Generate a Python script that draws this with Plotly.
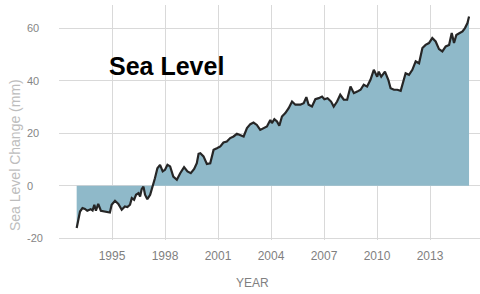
import plotly.graph_objects as go

years = [
    1993.0, 1993.19, 1993.33, 1993.47, 1993.6, 1993.79, 1993.9, 1994.0, 1994.09, 1994.22,
    1994.37, 1994.6, 1994.88, 1994.98, 1995.17, 1995.36, 1995.55, 1995.73, 1995.87, 1996.02,
    1996.12, 1996.25, 1996.36, 1996.5, 1996.59, 1996.68, 1996.78, 1996.87, 1997.0, 1997.16,
    1997.3, 1997.43, 1997.57, 1997.72, 1997.87, 1998.0, 1998.14, 1998.29, 1998.47, 1998.67,
    1998.86, 1999.08, 1999.27, 1999.46, 1999.65, 1999.8, 1999.9, 2000.0, 2000.18, 2000.37,
    2000.56, 2000.75, 2000.94, 2001.13, 2001.31, 2001.5, 2001.69, 2001.88, 2002.07, 2002.26,
    2002.45, 2002.64, 2002.83, 2003.01, 2003.2, 2003.39, 2003.58, 2003.77, 2003.96, 2004.05,
    2004.19, 2004.34, 2004.47, 2004.62, 2004.81, 2005.0, 2005.19, 2005.38, 2005.66, 2005.85,
    2006.0, 2006.13, 2006.32, 2006.51, 2006.7, 2006.89, 2007.02, 2007.2, 2007.4, 2007.55,
    2007.74, 2007.92, 2008.12, 2008.31, 2008.5, 2008.69, 2008.88, 2009.07, 2009.25, 2009.44,
    2009.63, 2009.82, 2010.01, 2010.1, 2010.24, 2010.45, 2010.64, 2010.77, 2010.96, 2011.15,
    2011.34, 2011.43, 2011.62, 2011.81, 2012.0, 2012.19, 2012.38, 2012.57, 2012.75, 2012.94,
    2013.13, 2013.32, 2013.51, 2013.7, 2013.89, 2014.08, 2014.23, 2014.36, 2014.49, 2014.68,
    2014.84, 2014.98, 2015.12, 2015.21,
]
sea_level_mm = [
    -16.1, -9.8, -8.5, -8.8, -9.5, -8.9, -9.4, -7.2, -9.5, -6.9,
    -9.5, -9.8, -10.2, -7.2, -5.7, -6.9, -9.1, -7.9, -8.1, -7.2,
    -4.7, -5.3, -3.4, -2.8, -4.1, -1.3, -0.3, -3.4, -5.1, -3.4,
    -0.3, 2.9, 6.7, 8.0, 5.5, 6.1, 8.0, 7.4, 3.5, 2.3,
    4.8, 7.1, 5.5, 4.8, 6.4, 8.6, 12.2, 12.4, 11.2, 8.3,
    8.6, 13.7, 14.3, 15.0, 16.5, 16.9, 18.2, 18.8, 19.8, 19.2,
    18.8, 22.0, 23.5, 24.1, 23.2, 21.3, 22.0, 22.6, 25.1, 23.9,
    25.4, 24.5, 22.9, 26.4, 27.7, 29.6, 32.1, 30.9, 30.9, 31.5,
    33.8, 30.9, 30.2, 33.0, 33.4, 34.0, 33.0, 33.4, 32.1, 30.2,
    32.1, 34.7, 32.8, 32.8, 37.8, 35.3, 35.9, 36.6, 38.5, 37.8,
    40.4, 44.2, 41.6, 43.5, 41.6, 43.5, 40.4, 37.2, 36.6, 36.6,
    36.2, 38.5, 42.9, 42.3, 44.2, 47.4, 46.7, 52.5, 53.7, 54.4,
    56.3, 55.0, 52.1, 51.2, 53.1, 53.7, 58.2, 54.4, 57.5, 58.2,
    58.8, 60.1, 62.0, 64.5,
]
x_tickvals = [1995, 1998, 2001, 2004, 2007, 2010, 2013]
x_ticktext = ["1995", "1998", "2001", "2004", "2007", "2010", "2013"]
y_tickvals = [-20, 0, 20, 40, 60]
y_ticktext = ["-20", "0", "20", "40", "60"]

W, H = 480, 294
ML, MR, MT, MB = 26, 0, 5, 54
plot_left = 59
dom0 = (plot_left - ML) / (W - ML - MR)

fig = go.Figure()
fig.add_trace(go.Scatter(
    x=years, y=sea_level_mm, mode="lines", fill="tozeroy",
    fillcolor="#8fb9c9", line=dict(color="#262626", width=2.2),
    hoverinfo="skip", showlegend=False,
))

grid = "#d9d9d9"
fig.update_layout(
    width=W, height=H,
    margin=dict(l=ML, r=MR, t=MT, b=MB),
    paper_bgcolor="white", plot_bgcolor="white",
    font=dict(family="Liberation Sans, Arial, sans-serif"),
    xaxis=dict(
        domain=[dom0, 1], range=[1992.0, 2015.83],
        tickvals=x_tickvals, ticktext=x_ticktext,
        showgrid=True, gridcolor=grid, gridwidth=1,
        zeroline=False, showline=False, ticks="",
        tickfont=dict(size=12, color="#7f7f7f"), ticklabelstandoff=7,
    ),
    yaxis=dict(
        range=[-20.65, 68.9], anchor="free", position=0, side="right",
        tickvals=y_tickvals, ticktext=y_ticktext,
        showgrid=True, gridcolor=grid, gridwidth=1,
        zeroline=False, showline=False, ticks="",
        tickfont=dict(size=11, color="#858585"), ticklabelstandoff=0,
    ),
)

paper_w = W - ML - MR
ph = H - MT - MB
def px2paper_x(px):
    return (px - ML) / paper_w
def px2paper_y(py):
    return (H - MB - py) / ph

# white box behind title (covers gridlines)
fig.add_shape(type="rect", xref="paper", yref="paper",
              x0=px2paper_x(83), x1=px2paper_x(290),
              y0=px2paper_y(96), y1=px2paper_y(39),
              fillcolor="white", line=dict(width=0), layer="between")

fig.add_annotation(text="<b>Sea Level</b>", xref="paper", yref="paper",
                   x=px2paper_x(107), y=px2paper_y(66), xanchor="left", yanchor="middle",
                   showarrow=False, font=dict(size=25, color="black",
                                              family="Liberation Sans, Arial, sans-serif"))
fig.add_annotation(text="Sea Level Change (mm)", xref="paper", yref="paper",
                   x=px2paper_x(15), y=px2paper_y(155), xanchor="center", yanchor="middle",
                   textangle=-90, showarrow=False,
                   font=dict(size=14, color="#bdbdbd"))
fig.add_annotation(text="YEAR", xref="paper", yref="paper",
                   x=px2paper_x(252), y=px2paper_y(283), xanchor="center", yanchor="middle",
                   showarrow=False, font=dict(size=12, color="#808080"))

fig.write_html("out.html", config={"displayModeBar": False},
               post_script="document.body.style.margin='0';")
